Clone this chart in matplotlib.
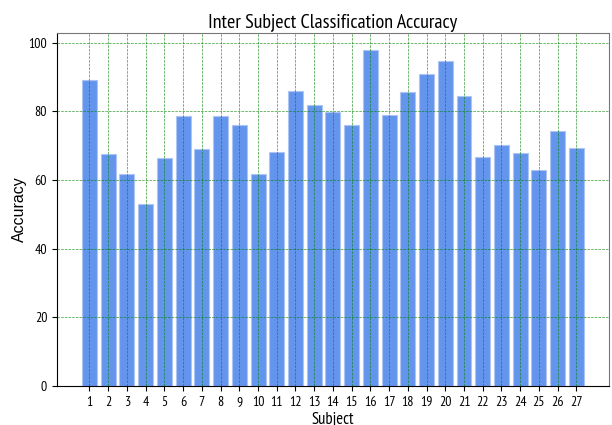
import matplotlib.pyplot as plt

subjects = list(range(1, 28))
accuracy = [89.0, 67.6, 61.8, 53.0, 66.3, 78.7, 69.0, 78.7, 76.1, 61.8,
            68.2, 86.0, 81.9, 79.9, 76.1, 97.9, 78.8, 85.7, 91.0, 94.8,
            84.6, 66.6, 70.3, 67.9, 62.8, 74.4, 69.4]

narrow = ["PT Sans Narrow", "DejaVu Sans"]

fig = plt.figure(figsize=(6.12, 4.25), dpi=100)
ax = fig.add_axes([0.093, 0.092, 0.902, 0.83])

ax.bar(subjects, accuracy, color="cornflowerblue", edgecolor="#aec4f2", linewidth=0.8)
ax.set_axisbelow(False)
ax.grid(True, color="green", linestyle="--", linewidth=0.5, alpha=0.8)

ax.set_xticks(subjects)
ax.set_xticklabels([str(s) for s in subjects], family=narrow, fontsize=10)
ax.set_yticks([0, 20, 40, 60, 80, 100])
ax.set_yticklabels(["0", "20", "40", "60", "80", "100"], family=narrow, fontsize=10)

ax.set_title("Inter Subject Classification Accuracy", family=narrow, fontsize=14.5, pad=4)
ax.set_xlabel("Subject", family=narrow, fontsize=12, labelpad=2)
ax.set_ylabel("Accuracy", family="Liberation Sans", fontsize=11.5)
ax.yaxis.set_label_coords(-0.054, 0.5)

ax.spines["top"].set_color("#777777")
ax.spines["right"].set_color("#777777")

fig.savefig("out.png", dpi=100)
